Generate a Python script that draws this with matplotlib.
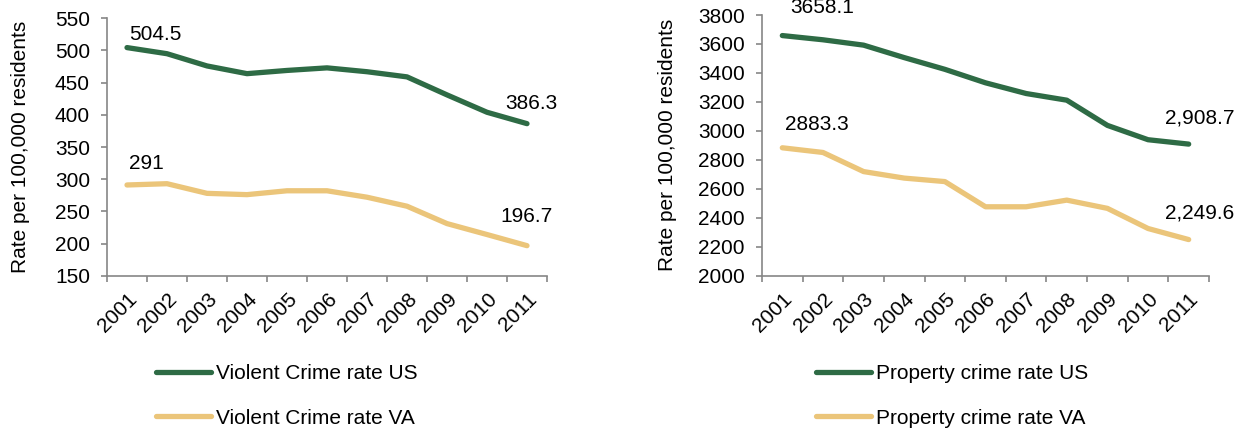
import numpy as np
import matplotlib.pyplot as plt
from matplotlib.ticker import FixedLocator

plt.rcParams['font.family'] = ['Liberation Sans', 'DejaVu Sans']

years = ['2001', '2002', '2003', '2004', '2005', '2006', '2007', '2008', '2009', '2010', '2011']

violent_us = [504.5, 495, 476, 464, 469, 473, 467, 459, 431, 404, 386.3]
violent_va = [291, 293, 278, 276, 282, 282, 272, 258, 231, 214, 196.7]
property_us = [3658.1, 3629, 3592, 3506, 3425, 3332, 3258, 3212, 3038, 2939, 2908.7]
property_va = [2883.3, 2851, 2719, 2674, 2650, 2476, 2476, 2522, 2465, 2326, 2249.6]

green = '#2E6B45'
gold = '#EBC57A'
axis_gray = '#868686'
fs = 15
PX = 0.72  # points per pixel at 100 dpi

fig = plt.figure(figsize=(12.46, 4.34), dpi=100)
ax1 = fig.add_axes([107 / 1246, 0.3647, 440 / 1246, 0.5931])
ax2 = fig.add_axes([762 / 1246, 0.3647, 447 / 1246, 0.6007])


def setup(ax, ylim, step, us, va, us_lab, va_lab, first_fmt, last_fmt, offsets, leg_x, lpad):
    x = np.arange(len(years))
    ax.plot(x, us, color=green, lw=3.8, solid_capstyle='round', label=us_lab)
    ax.plot(x, va, color=gold, lw=3.8, solid_capstyle='round', label=va_lab)
    ax.set_xlim(-0.5, len(years) - 0.5)
    ax.set_ylim(*ylim)
    ax.set_yticks(np.arange(ylim[0], ylim[1] + 1, step))
    ax.set_xticks(x)
    ax.set_xticklabels(years, rotation=45, ha='right', rotation_mode='anchor', fontsize=fs)
    ax.xaxis.set_minor_locator(FixedLocator(np.arange(-0.5, len(years), 1.0)))
    ax.tick_params(axis='x', which='major', length=0, pad=10)
    ax.tick_params(axis='x', which='minor', length=4.3, color=axis_gray, width=1.2)
    ax.tick_params(axis='y', length=4.3, color=axis_gray, width=1.2, labelsize=fs, pad=8)
    for s in ['top', 'right']:
        ax.spines[s].set_visible(False)
    for s in ['left', 'bottom']:
        ax.spines[s].set_color(axis_gray)
        ax.spines[s].set_linewidth(1.2)
    ax.set_ylabel('Rate per 100,000 residents', fontsize=fs, labelpad=lpad)
    labels = [(0, us[0], first_fmt(us[0])), (0, va[0], first_fmt(va[0])),
              (len(years) - 1, us[-1], last_fmt(us[-1])), (len(years) - 1, va[-1], last_fmt(va[-1]))]
    for (xi, yi, txt), (dx, dy) in zip(labels, offsets):
        ax.annotate(txt, (xi, yi), xytext=(dx * PX, dy * PX), textcoords='offset points',
                    ha='center', va='baseline', fontsize=fs, annotation_clip=False)
    fig.legend(handles=ax.get_lines(), loc='upper left', bbox_to_anchor=(leg_x, 1 - 364 / 434),
               frameon=False, fontsize=fs, handlelength=2.64, handletextpad=0.25,
               labelspacing=1.23, borderpad=0, borderaxespad=0)


setup(ax1, (150, 550), 50, violent_us, violent_va,
      'Violent Crime rate US', 'Violent Crime rate VA',
      lambda v: f'{v:g}', lambda v: f'{v:g}',
      [(28, 8), (19, 16), (4, 15), (-1, 24)], 156 / 1246, 18)
setup(ax2, (2000, 3800), 200, property_us, property_va,
      'Property crime rate US', 'Property crime rate VA',
      lambda v: f'{v:.1f}', lambda v: f'{v:,.1f}',
      [(40, 23), (35, 18), (11, 21), (11, 21)], 816 / 1246, 15)

fig.savefig('out.png', dpi=100)
